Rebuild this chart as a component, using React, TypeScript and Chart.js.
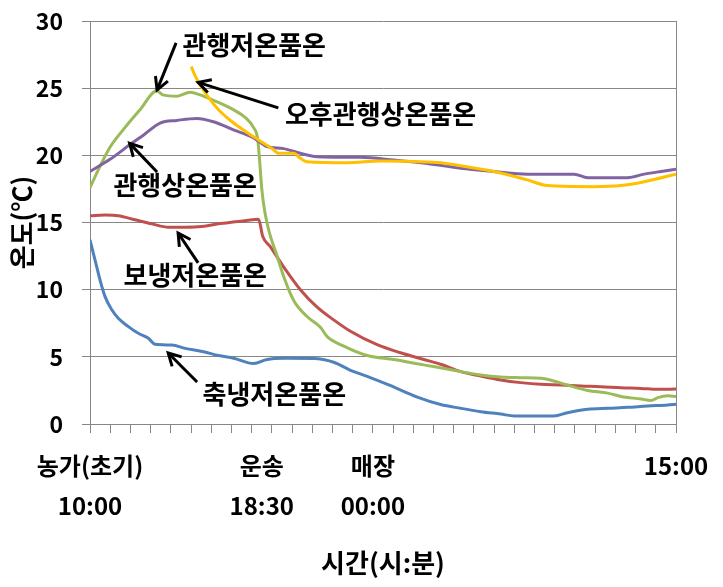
import React, { useEffect, useRef } from 'react';
import { Chart, registerables } from 'chart.js';

Chart.register(...registerables);

const FONT = '"Noto Sans CJK KR", "Noto Sans", sans-serif';
const GRID = '#878787';

// Series: hours elapsed since 10:00 (x) and product temperature °C (y)
const convLowName = '관행저온품온';
const convLowHours = [0, 0.5, 0.99, 1.64, 2.48, 3.31, 3.6, 4.3, 4.96, 5.45, 6.1, 7.09, 7.7, 8.08, 8.3, 8.4, 8.5, 8.65, 8.85, 9.26, 9.58, 10.08, 10.74, 11.4, 11.74, 12.56, 13.72, 15.04, 16.52, 17.68, 18.34, 19.34, 20.33, 21.32, 22.31, 22.96, 23.63, 24.63, 25.62, 26.28, 27.27, 27.76, 28.1, 28.59, 29];
const convLowTemps = [17.6, 19.2, 20.6, 21.9, 23.4, 24.8, 24.5, 24.4, 24.7, 24.5, 24.1, 23.4, 22.8, 22.1, 21.2, 19.5, 17.5, 15.8, 14.4, 12.5, 11.0, 9.2, 8.0, 7.2, 6.5, 5.8, 5.1, 4.8, 4.4, 4.1, 3.9, 3.65, 3.5, 3.45, 3.4, 3.2, 2.9, 2.5, 2.3, 2.05, 1.86, 1.75, 1.96, 2.1, 2.05];

const convAmbName = '관행상온품온';
const convAmbHours = [0, 0.99, 1.98, 2.64, 3.47, 4.3, 5.29, 6.11, 7.1, 8.1, 8.76, 9.58, 10.41, 11.24, 13.39, 15.04, 16.69, 18.34, 19.99, 21.65, 23.96, 24.63, 26.61, 27.43, 28.26, 29];
const convAmbTemps = [18.8, 19.7, 20.8, 21.5, 22.4, 22.6, 22.75, 22.5, 21.9, 21.3, 20.65, 20.5, 20.15, 19.9, 19.85, 19.65, 19.4, 19.04, 18.8, 18.6, 18.6, 18.34, 18.34, 18.6, 18.8, 18.96];

const pmAmbName = '오후관행상온품온';
const pmAmbHours = [5.01, 5.21, 5.45, 5.87, 6.36, 7.03, 7.68, 8.34, 9.01, 9.34, 10.08, 10.41, 10.74, 12.73, 14.38, 17.19, 18.34, 19.99, 21.65, 22.64, 24.95, 26.28, 27.43, 29];
const pmAmbTemps = [26.6, 25.9, 25.25, 24.3, 23.4, 22.5, 21.8, 21.15, 20.5, 20.15, 20.15, 19.78, 19.53, 19.45, 19.58, 19.46, 19.23, 18.8, 18.17, 17.75, 17.67, 17.75, 18.04, 18.6];

const insulatedName = '보냉저온품온';
const insulatedHours = [0, 0.74, 1.4, 2.23, 3.06, 3.88, 4.71, 5.54, 6.36, 7.19, 8.02, 8.34, 8.55, 8.92, 9.58, 10.41, 11.24, 12.06, 12.89, 14.21, 15.37, 16.52, 17.35, 18.34, 19.34, 20.33, 21.32, 22.31, 23.3, 24.29, 25.28, 26.28, 27.27, 28.1, 29];
const insulatedTemps = [15.5, 15.55, 15.5, 15.2, 14.9, 14.65, 14.65, 14.7, 14.9, 15.05, 15.2, 15.25, 13.95, 13.2, 11.7, 10.0, 8.7, 7.75, 6.9, 5.9, 5.3, 4.8, 4.45, 3.9, 3.57, 3.28, 3.08, 2.95, 2.9, 2.83, 2.78, 2.7, 2.65, 2.58, 2.6];

const precooledName = '축냉저온품온';
const precooledHours = [0, 0.25, 0.5, 0.74, 1.08, 1.4, 1.9, 2.39, 2.89, 3.22, 4.05, 4.71, 5.62, 6.36, 7.11, 8.1, 8.76, 9.58, 11.07, 12.06, 12.89, 13.72, 14.88, 16.2, 17.35, 18.34, 19.34, 20.33, 21.0, 22.31, 22.96, 23.63, 24.63, 25.62, 26.61, 27.6, 28.59, 29];
const precooledTemps = [13.7, 12.2, 10.7, 9.5, 8.5, 7.87, 7.25, 6.75, 6.38, 5.93, 5.88, 5.63, 5.38, 5.1, 4.9, 4.5, 4.8, 4.89, 4.88, 4.6, 4.0, 3.55, 2.85, 2.0, 1.45, 1.17, 0.92, 0.74, 0.6, 0.6, 0.6, 0.84, 1.09, 1.17, 1.24, 1.34, 1.41, 1.47];

// X-axis labels
const tickHours = [0, 8.5, 14, 29];
const tickStages = ['농가(초기)', '운송', '매장', '15:00'];
const tickTimes = ['10:00', '18:30', '00:00', ''];
const xTitle = '시간(시:분)';
const yTitle = '온도(℃)';

// Y axis range
const yMin = 0;
const yMax = 30;
const yStep = 5;
const xMax = 29;

// Callouts (series name, text anchor, arrow tail, arrow tip) in data units
const callouts = [
  { text: convLowName, at: [8.13, 28.22], from: [4.26, 28.37], to: [3.32, 24.87] },
  { text: pmAmbName, at: [14.38, 23.08], from: [9.32, 23.53], to: [5.35, 25.43] },
  { text: convAmbName, at: [4.71, 17.8], from: [3.32, 18.76], to: [1.96, 20.89] },
  { text: insulatedName, at: [5.21, 11.09], from: [5.35, 11.99], to: [4.36, 14.22] },
  { text: precooledName, at: [9.12, 2.23], from: [5.3, 3.13], to: [3.87, 5.29] },
];

const zip = (xs: number[], ys: number[]) => xs.map((x, i) => ({ x, y: ys[i] }));

const calloutPlugin = {
  id: 'callouts',
  afterDatasetsDraw(chart: any) {
    const { ctx, scales } = chart;
    const sx = scales.x;
    const sy = scales.y;
    ctx.save();
    ctx.strokeStyle = '#000';
    ctx.fillStyle = '#000';
    ctx.lineWidth = 3;
    ctx.lineCap = 'butt';
    ctx.font = `bold 26px ${FONT}`;
    ctx.textAlign = 'center';
    ctx.textBaseline = 'middle';
    callouts.forEach((c) => {
      const x1 = sx.getPixelForValue(c.from[0]);
      const y1 = sy.getPixelForValue(c.from[1]);
      const x2 = sx.getPixelForValue(c.to[0]);
      const y2 = sy.getPixelForValue(c.to[1]);
      ctx.beginPath();
      ctx.moveTo(x1, y1);
      ctx.lineTo(x2, y2);
      ctx.stroke();
      const ang = Math.atan2(y2 - y1, x2 - x1);
      const len = 14;
      const spread = 0.5;
      ctx.beginPath();
      ctx.moveTo(x2 - len * Math.cos(ang - spread), y2 - len * Math.sin(ang - spread));
      ctx.lineTo(x2, y2);
      ctx.lineTo(x2 - len * Math.cos(ang + spread), y2 - len * Math.sin(ang + spread));
      ctx.stroke();
      ctx.fillText(c.text, sx.getPixelForValue(c.at[0]), sy.getPixelForValue(c.at[1]));
    });
    ctx.restore();
  },
};

export default function App() {
  const canvasRef = useRef<HTMLCanvasElement | null>(null);

  useEffect(() => {
    const canvas = canvasRef.current;
    if (!canvas) return;
    const line = (label: string, data: any[], color: string) => ({
      label,
      data,
      borderColor: color,
      backgroundColor: color,
      borderWidth: 3,
      pointRadius: 0,
      fill: false,
      cubicInterpolationMode: 'monotone' as const,
    });
    const chart = new Chart(canvas, {
      type: 'line',
      data: {
        datasets: [
          line(pmAmbName, zip(pmAmbHours, pmAmbTemps), '#FFC000'),
          line(convAmbName, zip(convAmbHours, convAmbTemps), '#8064A2'),
          line(convLowName, zip(convLowHours, convLowTemps), '#9BBB59'),
          line(insulatedName, zip(insulatedHours, insulatedTemps), '#C0504D'),
          line(precooledName, zip(precooledHours, precooledTemps), '#4F81BD'),
        ],
      },
      options: {
        animation: false,
        responsive: false,
        devicePixelRatio: 1,
        layout: { padding: { top: 21, right: 47, left: 0, bottom: 0 } },
        plugins: {
          legend: { display: false },
          tooltip: { enabled: false },
        },
        scales: {
          x: {
            type: 'linear',
            min: 0,
            max: xMax,
            afterBuildTicks: (scale: any) => {
              const vals: number[] = [];
              for (let h = 0; h <= xMax; h++) vals.push(h);
              tickHours.forEach((h) => { if (!vals.includes(h)) vals.push(h); });
              vals.sort((a, b) => a - b);
              scale.ticks = vals.map((value) => ({ value }));
            },
            afterFit: (scale: any) => { scale.height = 163; },
            border: { display: true, color: GRID, width: 1 },
            grid: {
              drawOnChartArea: true,
              tickLength: 9,
              lineWidth: 1,
              color: (ctx: any) => (ctx.tick && (ctx.tick.value === 0 || ctx.tick.value === xMax) ? GRID : 'rgba(0,0,0,0)'),
              tickColor: (ctx: any) => (ctx.tick && Number.isInteger(ctx.tick.value) ? GRID : 'rgba(0,0,0,0)'),
            },
            ticks: {
              autoSkip: false,
              maxRotation: 0,
              minRotation: 0,
              padding: 13,
              color: '#000',
              font: { family: FONT, size: 24, weight: 'bold', lineHeight: 1.667 },
              callback: (value: any) => {
                const i = tickHours.indexOf(Number(value));
                if (i < 0) return '';
                return tickTimes[i] ? [tickStages[i], tickTimes[i]] : [tickStages[i]];
              },
            },
            title: {
              display: true,
              text: xTitle,
              color: '#000',
              font: { family: FONT, size: 26, weight: 'bold', lineHeight: 1.2 },
              padding: { top: 0, bottom: 8 },
            },
          },
          y: {
            type: 'linear',
            min: yMin,
            max: yMax,
            afterFit: (scale: any) => {
              scale.width = 90;
              scale.paddingTop = 0;
              scale.paddingBottom = 0;
            },
            border: { display: true, color: GRID, width: 1 },
            grid: { color: GRID, lineWidth: 1, tickLength: 8, tickColor: GRID },
            ticks: {
              stepSize: yStep,
              padding: 19,
              color: '#000',
              font: { family: FONT, size: 23, weight: 'bold' },
            },
            title: {
              display: true,
              text: yTitle,
              color: '#000',
              font: { family: FONT, size: 26, weight: 'bold', lineHeight: 1.2 },
              padding: { top: 7, bottom: 0 },
            },
          },
        },
      },
      plugins: [calloutPlugin],
    } as any);
    return () => chart.destroy();
  }, []);

  return (
    <div style={{ position: 'fixed', left: 0, top: 0, width: 723, height: 587, background: '#fff' }}>
      <canvas ref={canvasRef} width={723} height={587} style={{ display: 'block', width: 723, height: 587 }} />
    </div>
  );
}
